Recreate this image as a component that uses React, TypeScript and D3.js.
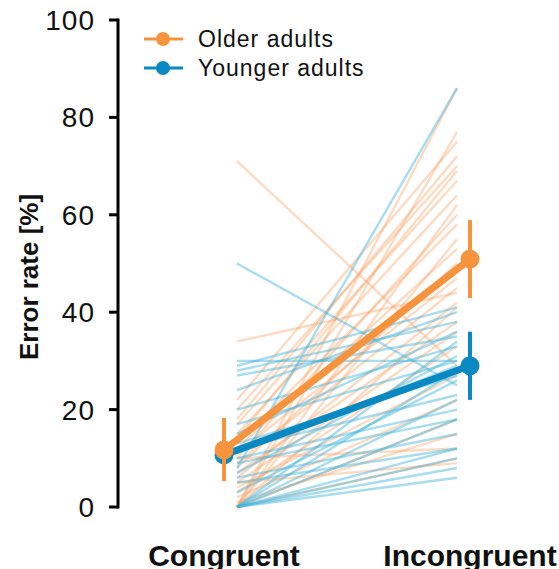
import React from "react";
import * as d3 from "d3";

const conditions = ["Congruent", "Incongruent"];
const yTicks = [0, 20, 40, 60, 80, 100];

// individual participants: [congruent, incongruent]
const olderCongruent = [71, 34, 0, 0, 0, 0, 0, 0, 0, 22, 20, 18, 17, 15, 14, 13, 12, 11, 10, 9, 8, 7, 6, 5, 4, 3, 2, 1, 10, 5];
const olderIncongruent = [29, 44, 86, 77, 62, 55, 41, 18, 10, 75, 70, 72, 67, 64, 69, 58, 53, 47, 60, 45, 50, 38, 42, 36, 27, 33, 22, 15, 12, 9];
const youngerCongruent = [8, 50, 30, 29, 28, 27, 24, 20, 17, 15, 13, 12, 11, 10, 9, 7, 6, 5, 0, 0, 0, 0, 0, 0, 0, 0, 3];
const youngerIncongruent = [86, 25, 30, 41, 38, 35, 40, 33, 30, 36, 27, 23, 29, 20, 18, 31, 15, 12, 34, 28, 22, 18, 12, 10, 8, 6, 26];

// group means and error bars
const olderMean = [11.7, 50.9];
const olderLow = [5.3, 42.9];
const olderHigh = [18.3, 58.9];
const youngerMean = [10.7, 29.0];
const youngerLow = [7.5, 22.0];
const youngerHigh = [14.0, 36.0];

const groups = ["Older adults", "Younger adults"];
const ORANGE = "#F7933C";
const BLUE = "#0A88C2";
const ORANGE_LIGHT = "#FBA56A";
const BLUE_LIGHT = "#3BB4DE";

export default function App() {
  const W = 559, H = 569;
  const y = d3.scaleLinear().domain([0, 100]).range([507, 20]);
  const x = d3.scalePoint<string>().domain(conditions).range([224, 470]);
  const inset = 13;
  const axisX = 118;
  const line = d3.line<[number, number]>().x(d => d[0]).y(d => d[1]);

  const indiv = (a: number[], b: number[], color: string, op: number, key: string) =>
    a.map((v, i) => (
      <path
        key={key + i}
        d={line([[x(conditions[0])! + inset, y(v)], [x(conditions[1])! - inset, y(b[i])]]) || ""}
        stroke={color}
        strokeOpacity={op}
        strokeWidth={2.4}
        fill="none"
      />
    ));

  const meanGroup = (m: number[], lo: number[], hi: number[], color: string, key: string) => (
    <g key={key}>
      <path
        d={line(conditions.map((c, i) => [x(c)!, y(m[i])] as [number, number])) || ""}
        stroke={color}
        strokeWidth={7}
        fill="none"
      />
      {conditions.map((c, i) => (
        <g key={c}>
          <line x1={x(c)!} x2={x(c)!} y1={y(lo[i])} y2={y(hi[i])} stroke={color} strokeWidth={4} />
          <circle cx={x(c)!} cy={y(m[i])} r={9.5} fill={color} />
        </g>
      ))}
    </g>
  );

  return (
    <svg width={W} height={H} style={{ position: "absolute", left: 0, top: 0 }} fontFamily="Liberation Sans, Arial, sans-serif">
      {/* axis */}
      <line x1={axisX} x2={axisX} y1={y(0) + 1.5} y2={y(100) - 1.5} stroke="#000" strokeWidth={3} />
      {yTicks.map(t => (
        <g key={t}>
          <line x1={axisX - 9} x2={axisX} y1={y(t)} y2={y(t)} stroke="#000" strokeWidth={3} />
          <text x={95} y={y(t)} dy="0.36em" textAnchor="end" fontSize={28} letterSpacing={1} fill="#111">{t}</text>
        </g>
      ))}
      <text transform={`translate(38,277) rotate(-90)`} textAnchor="middle" fontSize={26} fontWeight="bold" fill="#111">Error rate [%]</text>

      {indiv(olderCongruent, olderIncongruent, ORANGE_LIGHT, 0.4, "o")}
      {indiv(youngerCongruent, youngerIncongruent, BLUE_LIGHT, 0.45, "y")}

      {meanGroup(youngerMean, youngerLow, youngerHigh, BLUE, "ym")}
      {meanGroup(olderMean, olderLow, olderHigh, ORANGE, "om")}

      {conditions.map(c => (
        <text key={c} x={x(c)!} y={566} textAnchor="middle" fontSize={30} fontWeight="bold" fill="#111">{c}</text>
      ))}

      {/* legend */}
      {groups.map((g, i) => {
        const ly = 39 + i * 29;
        const col = i === 0 ? ORANGE : BLUE;
        return (
          <g key={g}>
            <line x1={144} x2={183} y1={ly} y2={ly} stroke={col} strokeWidth={3} />
            <circle cx={163} cy={ly} r={7} fill={col} />
            <text x={198} y={ly} dy="0.36em" fontSize={23} letterSpacing={1} fill="#111">{g}</text>
          </g>
        );
      })}
    </svg>
  );
}
